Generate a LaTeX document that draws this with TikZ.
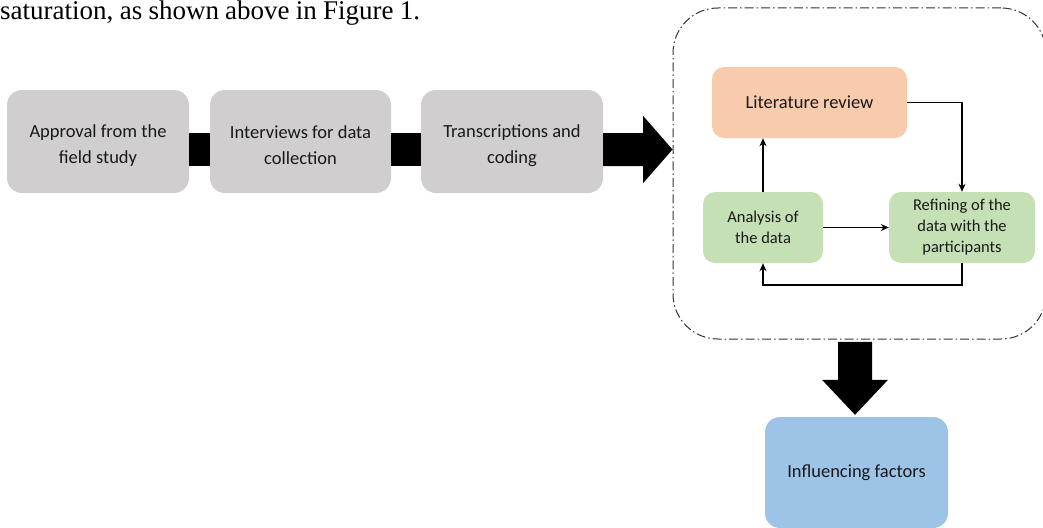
\documentclass[tikz,border=0pt]{standalone}
\usepackage{fontspec}
\setmainfont{Carlito}
\newfontfamily\pageserif{Liberation Serif}
\usetikzlibrary{calc,arrows.meta}
\definecolor{boxgray}{HTML}{D0CECE}
\definecolor{boxorange}{HTML}{F8CBAD}
\definecolor{boxgreen}{HTML}{C5E0B4}
\definecolor{boxblue}{HTML}{9DC3E6}
\tikzset{
  graybox/.style={rectangle, rounded corners=15pt, fill=boxgray, draw=none,
    minimum height=103pt},
  graytext/.style={align=center, inner sep=0pt,
    font=\fontsize{18.5}{26}\selectfont, text=black!90},
  orangebox/.style={rectangle, rounded corners=12pt, fill=boxorange, draw=none, align=center,
    font=\fontsize{18.5}{24}\selectfont, text=black!90},
  greenbox/.style={rectangle, rounded corners=12pt, fill=boxgreen, draw=none, align=center,
    font=\fontsize{16.5}{21}\selectfont, text=black!90},
  bluebox/.style={rectangle, rounded corners=15pt, fill=boxblue, draw=none, align=center,
    font=\fontsize{18.5}{24}\selectfont, text=black!90},
  container/.style={rectangle, rounded corners=45pt, draw=black!80, line width=1pt,
    dash pattern=on 9pt off 3pt on 1.5pt off 3pt},
  thinarrow/.style={draw=black, line width=1.8pt, -{Stealth[length=8pt,width=7pt]}},
  thickbar/.style={draw=black, line width=33pt},
}
\begin{document}
\begin{tikzpicture}[x=1pt,y=-1pt]
\useasboundingbox (0,0) rectangle (1043,527);
\begin{scope}
\clip (0,0) rectangle (1043,527);
% page text at the top
\node[anchor=base west, inner sep=0pt, font=\pageserif\fontsize{27}{30}\selectfont] (pagetext) at (0,20)
  {\makebox[420pt][s]{saturation, as shown above in Figure 1.}};

% process chain
\node[graybox, minimum width=182pt] (b1) at (98,141.5) {};
\node[graybox, minimum width=181pt] (b2) at (300.5,141.5) {};
\node[graybox, minimum width=182pt] (b3) at (512,141.5) {};
\node[graytext] (b1t) at ([yshift=-4pt]b1.center) {Approval from the\\field study};
\node[graytext] (b2t) at ([yshift=-4pt]b2.center) {Interviews for data\\collection};
\node[graytext] (b3t) at ([yshift=-4pt]b3.center) {Transcriptions and\\coding};

\draw[thickbar] ([yshift=-8pt]b1.east) -- ([yshift=-8pt]b2.west);
\draw[thickbar] ([yshift=-8pt]b2.east) -- ([yshift=-8pt]b3.west);

% dashed container
\node[container, minimum width=373pt, minimum height=331pt] (cont) at (859.5,173.5) {};

% big arrow into container
\fill[black] ($(b3.east)+(0,-8.5)$) -- ++(40,0) -- ++(0,-17) -- ($(cont.west)+(0,-24)$)
  -- ($(b3.east)+(40,41.5)$) -- ++(0,-17) -- ($(b3.east)+(0,24.5)$) -- cycle;

% inner cycle
\node[orangebox, minimum width=195pt, minimum height=71pt] (lit) at (809.5,102.5) {Literature review};
\node[greenbox, minimum width=120pt, minimum height=71pt] (ana) at (763,227.5) {Analysis of\\the data};
\node[greenbox, minimum width=146pt, minimum height=71pt] (ref) at (962,227.5) {Refining of the\\data with the\\participants};

\draw[thinarrow] (lit.east) -| (ref.north);
\draw[thinarrow] (ana.north) -- (ana.north |- lit.south);
\draw[thinarrow] (ana.east) -- (ref.west);
\draw[thinarrow] (ref.south) -- ++(0,22) -| (ana.south);

% result
\node[bluebox, minimum width=183pt, minimum height=111pt] (inf) at (856.5,472.5) {Influencing factors};

% big arrow down
\fill[black] ($(inf.north)+(-18.5,-75)$) -- ++(34,0) -- ++(0,38) -- ++(16,0)
  -- ($(inf.north)+(-1.5,-2)$) -- ($(inf.north)+(-34.5,-37)$) -- ++(16,0) -- cycle;
\end{scope}
\end{tikzpicture}
\end{document}
